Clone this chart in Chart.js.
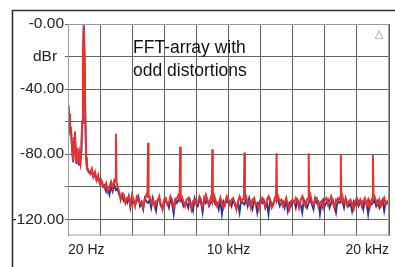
<!DOCTYPE html>
<html>
<head>
<meta charset="utf-8">
<script src="https://cdn.jsdelivr.net/npm/chart.js@4.4.1/dist/chart.umd.min.js"></script>
<style>
  html, body { margin: 0; padding: 0; background: #fff; }
  canvas { display: block; }
</style>
</head>
<body>
<canvas id="fft" width="395" height="267"></canvas>
<script>
// FFT bins: fine steps below 1.2 kHz, then 100 Hz steps up to 20 kHz
const lowHz = [20, 50, 80, 110, 140, 170, 200, 250, 300, 350, 400, 450, 500, 550,
  600, 650, 700, 750, 800, 850, 900, 950, 1000, 1050, 1100, 1150, 1200];
const binHz = 100;
const highHz = [];
for (let f = 1300; f <= 20000; f += binHz) highHz.push(f);
const freqHz = lowHz.concat(highHz);

// odd harmonics of the 1 kHz tone (red channel)
const harmHz = [3000, 5000, 7000, 9000, 11000, 13000, 15000, 17000, 19000];
const harmDb = [-67.5, -73, -75.5, -77, -79, -79.5, -79.5, -80, -80.5];
const harmHalfWidthHz = 35;

// red channel floor (fundamental included, harmonics added from harmDb)
const redDb = [
  -50, -53, -58, -55, -62, -67, -63, -72, -80, -84, -70, -66, -78, -85,
  -76, -82, -86, -80, -84, -78, -60, -22, 0, -20, -58, -82, -88,
  -90, -92, -89, -94, -91, -96, -93, -98,
  -96, -99, -101, -98, -103, -100, -97, -101, -96, -97,
  -100, -103, -108, -104, -105, -110, -107, -106, -111, -105,
  -108, -112, -106, -107, -110, -109, -113, -108, -105, -106,
  -106, -110, -108, -112, -109, -109, -106, -111, -114, -108,
  -107, -111, -110, -106, -108, -113, -109, -107, -105, -107,
  -106, -109, -112, -108, -107, -110, -114, -109, -108, -111,
  -110, -106, -108, -112, -109, -105, -109, -111, -107, -108,
  -105, -108, -112, -110, -107, -109, -113, -110, -106, -108,
  -111, -108, -107, -110, -114, -109, -106, -109, -108, -107,
  -106, -110, -109, -113, -108, -107, -111, -110, -114, -109,
  -107, -110, -112, -108, -106, -109, -113, -111, -107, -108,
  -106, -109, -108, -112, -110, -107, -111, -114, -109, -108,
  -110, -107, -109, -113, -108, -106, -110, -112, -108, -107,
  -105, -109, -111, -108, -107, -112, -110, -109, -113, -108,
  -107, -111, -109, -106, -110, -113, -108, -109, -107, -108,
  -106, -110, -108, -112, -109, -108, -111, -114, -109, -107,
  -110, -108, -112, -109, -107, -111, -108, -113, -109, -107,
  -106, -109, -111, -108, -112, -110, -107, -111, -109, -110
];

// reference channel (blue), no harmonics
const blueDb = [
  -51, -54, -59, -56, -63, -68, -64, -73, -81, -85, -71, -67, -79, -86,
  -77, -83, -87, -81, -85, -79, -61, -23, -1, -21, -59, -83, -89,
  -91, -92, -91, -94, -93, -96, -95, -98,
  -97, -100, -99, -103, -101, -105, -100, -103, -99, -102,
  -101, -105, -107, -106, -109, -108, -110, -106, -113, -107,
  -110, -111, -109, -106, -112, -110, -114, -107, -109, -110,
  -108, -113, -107, -111, -115, -108, -107, -112, -113, -110,
  -109, -110, -113, -107, -111, -117, -108, -110, -108, -109,
  -108, -112, -110, -110, -113, -108, -112, -115, -107, -110,
  -112, -108, -110, -116, -107, -110, -108, -112, -110, -109,
  -108, -111, -110, -114, -108, -117, -109, -111, -108, -110,
  -109, -112, -108, -111, -113, -110, -116, -108, -110, -111,
  -108, -112, -107, -111, -114, -109, -110, -116, -110, -108,
  -110, -108, -113, -110, -117, -108, -111, -110, -108, -109,
  -108, -112, -110, -109, -113, -108, -115, -110, -112, -109,
  -109, -113, -108, -110, -111, -116, -108, -110, -113, -110,
  -108, -111, -114, -107, -110, -109, -117, -110, -108, -112,
  -110, -108, -113, -110, -108, -112, -116, -108, -110, -109,
  -109, -113, -107, -110, -112, -110, -115, -109, -111, -108,
  -112, -110, -109, -114, -108, -110, -117, -109, -111, -110,
  -108, -112, -109, -113, -110, -108, -115, -109, -110, -111
];

// axis ticks
const yTicks = [-120, -100, -80, -60, -40, -20, 0];
const yLabels = ["-120.00", "", "-80.00", "", "-40.00", "", "-0.00"];
const xTicks = [20, 2018, 4016, 6014, 8012, 10010, 12008, 14006, 16004, 18002, 20000];
const xLabels = ["20 Hz", "", "", "", "", "10 kHz", "", "", "", "", "20 kHz"];

const FONT = "'Liberation Sans', Arial, sans-serif";

// red series: floor bins, with a narrow spike at each harmonic
const redPoints = [];
freqHz.forEach((f, i) => {
  const h = harmHz.indexOf(f);
  if (h < 0) {
    redPoints.push({ x: f, y: redDb[i] });
  } else {
    redPoints.push({ x: f - harmHalfWidthHz, y: redDb[i] });
    redPoints.push({ x: f, y: harmDb[h] });
    redPoints.push({ x: f + harmHalfWidthHz, y: redDb[i] });
  }
});

const decor = {
  id: "decor",
  afterDatasetsDraw(chart) {
    const { ctx, chartArea: a } = chart;
    ctx.save();
    ctx.strokeStyle = "#9a9a9a";
    ctx.lineWidth = 1;
    ctx.strokeRect(a.left + 0.5, a.top + 0.5, a.right - a.left - 1, a.bottom - a.top - 1);
    ctx.restore();
  },
  afterDraw(chart) {
    const { ctx, scales } = chart;
    ctx.save();
    // outer frame
    ctx.strokeStyle = "#333";
    ctx.lineWidth = 1.6;
    ctx.beginPath();
    ctx.moveTo(12.5, 267);
    ctx.lineTo(12.5, 10.5);
    ctx.lineTo(395, 10.5);
    ctx.stroke();
    // unit label
    ctx.fillStyle = "#222";
    ctx.font = "15.5px " + FONT;
    ctx.textAlign = "center";
    ctx.textBaseline = "middle";
    ctx.fillText("dBr", 45, scales.y.getPixelForValue(-20));
    // annotation
    ctx.fillStyle = "#111";
    ctx.font = "17.5px " + FONT;
    ctx.textAlign = "left";
    ctx.textBaseline = "alphabetic";
    ctx.fillText("FFT-array with", 133, 53);
    ctx.fillText("odd distortions", 133, 76);
    // corner marker
    ctx.fillStyle = "#888";
    ctx.font = "11px 'DejaVu Sans', sans-serif";
    ctx.textAlign = "center";
    ctx.textBaseline = "middle";
    ctx.fillText("\u25B3", 379, 34);
    ctx.restore();
  }
};

new Chart(document.getElementById("fft"), {
  type: "line",
  data: {
    datasets: [
      {
        label: "odd distortions",
        data: redPoints,
        borderColor: "#e8322a",
        borderWidth: 2,
        pointRadius: 0,
        tension: 0,
      },
      {
        label: "reference",
        data: freqHz.map((f, i) => ({ x: f, y: blueDb[i] })),
        borderColor: "#26369c",
        borderWidth: 1.8,
        pointRadius: 0,
        tension: 0,
      },
    ],
  },
  options: {
    responsive: false,
    animation: false,
    devicePixelRatio: 1,
    layout: { padding: { top: 24, right: 5, left: 0, bottom: 0 } },
    plugins: { legend: { display: false }, tooltip: { enabled: false } },
    scales: {
      x: {
        type: "linear",
        min: 20,
        max: 20000,
        afterBuildTicks: (s) => { s.ticks = xTicks.map((v) => ({ value: v })); },
        afterFit: (s) => { s.height = 31.5; },
        border: { display: false },
        grid: { color: "#626262", lineWidth: 1, drawTicks: false },
        ticks: {
          autoSkip: false,
          maxRotation: 0,
          align: "inner",
          padding: 6,
          color: "#222",
          font: { family: FONT, size: 14 },
          callback: (v, i) => xLabels[i],
        },
      },
      y: {
        min: -130,
        max: 0,
        afterBuildTicks: (s) => { s.ticks = yTicks.map((v) => ({ value: v })); },
        afterFit: (s) => { s.width = 68; },
        border: { display: false },
        grid: { color: "#626262", lineWidth: 1, tickLength: 3 },
        ticks: {
          padding: 1,
          color: "#222",
          font: { family: FONT, size: 15.5 },
          callback: (v, i) => yLabels[i],
        },
      },
    },
  },
  plugins: [decor],
});
</script>
</body>
</html>
